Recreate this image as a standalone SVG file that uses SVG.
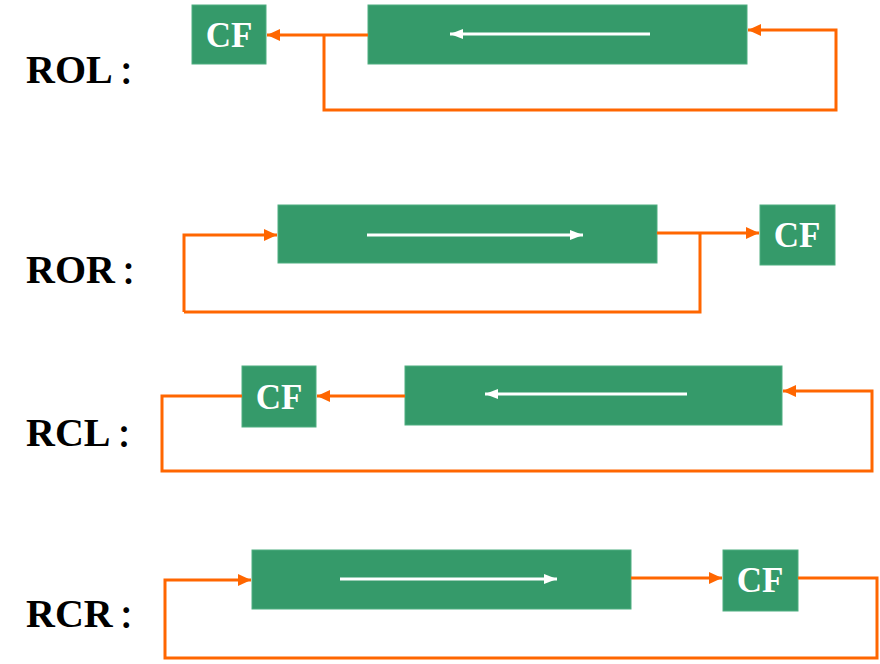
<svg xmlns="http://www.w3.org/2000/svg" width="880" height="664" viewBox="0 0 880 664">
<defs>
<marker id="oa" markerUnits="userSpaceOnUse" markerWidth="14" markerHeight="14" viewBox="0 0 14 14" refX="13" refY="7" orient="auto">
<path d="M0,1 L13,7 L0,13 Z" fill="#ff6600"/>
</marker>
<marker id="wa" markerUnits="userSpaceOnUse" markerWidth="14" markerHeight="12" viewBox="0 0 14 12" refX="13" refY="6" orient="auto">
<path d="M0,1 L13,6 L0,11 Z" fill="#ffffff"/>
</marker>
</defs>
<style>
.box{fill:#359a6a;stroke:#4fae80;stroke-width:1}
.cf{font-family:"Liberation Serif","Times New Roman",serif;font-weight:bold;font-size:35px;fill:#ffffff;text-anchor:middle}
.lbl{font-family:"Liberation Serif","Times New Roman","Noto Sans CJK SC",serif;font-weight:bold;font-size:40px;fill:#000000}
.col{font-family:"Noto Sans CJK SC",sans-serif;font-weight:bold;font-size:30px}
.o{fill:none;stroke:#ff6600;stroke-width:3}
.w{fill:none;stroke:#ffffff;stroke-width:3}
</style>
<rect width="880" height="664" fill="#ffffff"/>
<g id="labels">
<text class="lbl" x="26" y="83">ROL<tspan class="col" dx="6">：</tspan></text>
<text class="lbl" x="26" y="283">ROR<tspan class="col" dx="6">：</tspan></text>
<text class="lbl" x="26" y="446">RCL<tspan class="col" dx="6">：</tspan></text>
<text class="lbl" x="26" y="627">RCR<tspan class="col" dx="6">：</tspan></text>
</g>
<g id="rol-cf"><rect class="box" x="192" y="5" width="74" height="59"/><text class="cf" x="229" y="47">CF</text></g>
<g id="rol-reg"><rect class="box" x="368" y="5" width="379" height="59"/><line class="w" x1="650" y1="34" x2="450" y2="34" marker-end="url(#wa)"/></g>
<g id="ror-reg"><rect class="box" x="278" y="205" width="379" height="58"/><line class="w" x1="367" y1="235" x2="583" y2="235" marker-end="url(#wa)"/></g>
<g id="ror-cf"><rect class="box" x="760" y="205" width="75" height="60"/><text class="cf" x="797" y="247">CF</text></g>
<g id="rcl-cf"><rect class="box" x="242" y="366" width="74" height="61"/><text class="cf" x="279" y="409">CF</text></g>
<g id="rcl-reg"><rect class="box" x="405" y="366" width="377" height="59"/><line class="w" x1="687" y1="394" x2="485" y2="394" marker-end="url(#wa)"/></g>
<g id="rcr-reg"><rect class="box" x="252" y="550" width="379" height="59"/><line class="w" x1="340" y1="579" x2="557" y2="579" marker-end="url(#wa)"/></g>
<g id="rcr-cf"><rect class="box" x="723" y="550" width="75" height="61"/><text class="cf" x="760" y="592">CF</text></g>
<g id="connectors">
<line class="o" x1="368" y1="35" x2="267" y2="35" marker-end="url(#oa)"/>
<polyline class="o" points="324,35 324,110 836,110 836,30 748,30" marker-end="url(#oa)"/>
<polyline class="o" points="184,312 184,235 277,235" marker-end="url(#oa)"/>
<polyline class="o" points="184,312 700,312 700,233"/>
<line class="o" x1="657" y1="233" x2="759" y2="233" marker-end="url(#oa)"/>
<line class="o" x1="405" y1="396" x2="317" y2="396" marker-end="url(#oa)"/>
<polyline class="o" points="242,396 162,396 162,471 872,471 872,391 783,391" marker-end="url(#oa)"/>
<line class="o" x1="631" y1="578" x2="722" y2="578" marker-end="url(#oa)"/>
<polyline class="o" points="798,578 877,578 877,658 165,658 165,580 251,580" marker-end="url(#oa)"/>
</g>
</svg>
